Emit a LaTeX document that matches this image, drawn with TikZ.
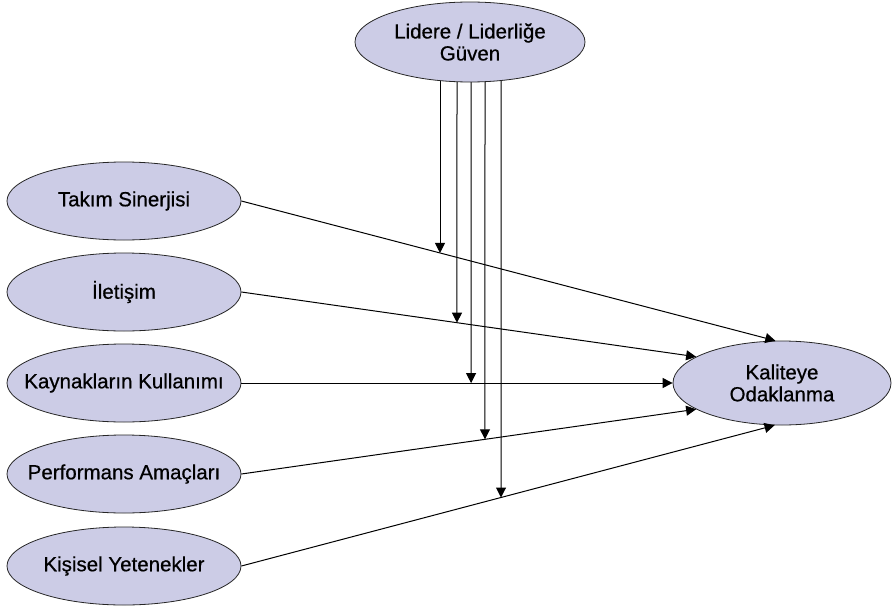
\documentclass[tikz,border=0pt]{standalone}
\usepackage{fontspec}
\setmainfont{Liberation Sans}
\newfontfamily\lblfont{Liberation Sans}[BoldFont=Liberation Sans,BoldFeatures={FakeBold=0.6}]
\usetikzlibrary{shapes.geometric,arrows.meta,backgrounds}
\definecolor{lav}{RGB}{204,204,230}
\begin{document}
\begin{tikzpicture}[x=1pt,y=-1pt,
  ell/.style={ellipse,draw=black!85,line width=0.8pt,fill=lav,minimum width=234pt,minimum height=78pt,inner sep=0pt},
  txt/.style={font=\lblfont\bfseries\fontsize{20.5}{22}\selectfont,align=center,inner sep=0pt},
  con/.style={line width=1pt,draw=black,-{Triangle[length=10pt,width=10pt]}}]
\useasboundingbox (0,0) rectangle (896,610);
\node[ell,minimum width=230pt,minimum height=80pt] (L) at (470,42) {};
\node[txt] (Lt) at (L) {Lidere / Liderliğe\\Güven};
\node[ell] (t) at (124,201) {};
\node[txt] (tt) at (t) {Takım Sinerjisi};
\node[ell] (i) at (124,292) {};
\node[txt] (it) at (i) {İletişim};
\node[ell] (r) at (124,383) {};
\node[txt] (rt) at (r) {Kaynakların Kullanımı};
\node[ell] (p) at (124,474) {};
\node[txt] (pt) at (p) {Performans Amaçları};
\node[ell] (y) at (124,566) {};
\node[txt] (yt) at (y) {Kişisel Yetenekler};
\node[ell,minimum width=218pt,minimum height=84pt] (k) at (782,383) {};
\node[txt] (kt) at (k) {Kaliteye\\Odaklanma};
\draw[con] (t.east) -- (k.99);
\draw[con] (i.east) -- (k.163);
\draw[con] (r.east) -- (k.180);
\draw[con] (p.east) -- (k.197);
\draw[con] (y.east) -- (k.260);
\coordinate (v1) at (440,42); \coordinate (w1) at (440,600);
\coordinate (v2) at (457,42); \coordinate (w2) at (457,600);
\coordinate (v3) at (471,42); \coordinate (w3) at (471,600);
\coordinate (v4) at (485,42); \coordinate (w4) at (485,600);
\coordinate (v5) at (501,42); \coordinate (w5) at (501,600);
\begin{pgfonlayer}{background}
\draw[con] (v1) -- (intersection of t.east--k.99 and v1--w1);
\draw[con] (v2) -- (intersection of i.east--k.163 and v2--w2);
\draw[con] (v3) -- (intersection of r.east--k.180 and v3--w3);
\draw[con] (v4) -- (intersection of p.east--k.197 and v4--w4);
\draw[con] (v5) -- (intersection of y.east--k.260 and v5--w5);
\end{pgfonlayer}
\end{tikzpicture}
\end{document}
